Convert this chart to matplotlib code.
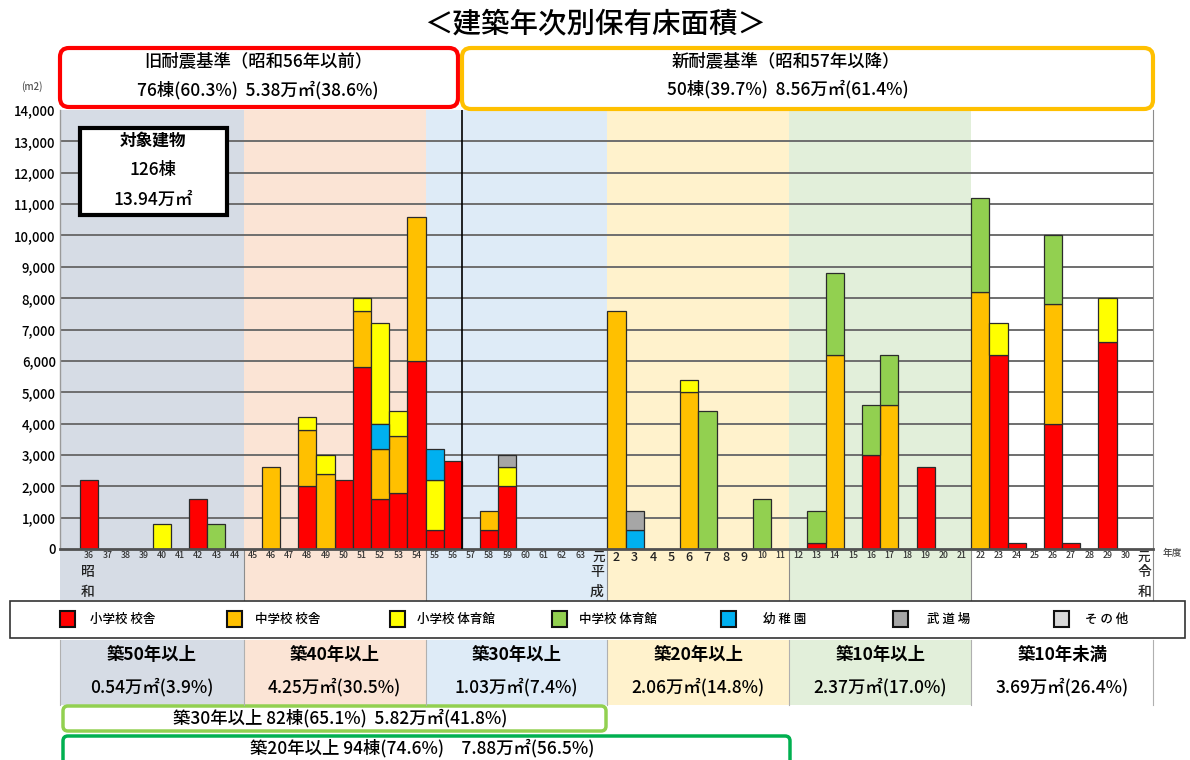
import matplotlib
matplotlib.use("Agg")
import matplotlib.pyplot as plt
import numpy as np
from matplotlib.patches import Rectangle, FancyBboxPatch
from matplotlib.transforms import Affine2D

plt.rcParams['font.family'] = ['Noto Sans CJK JP', 'DejaVu Sans']
plt.rcParams['font.weight'] = 'medium'

W, H = 1190, 760

# ---- data -------------------------------------------------------------
# fiscal years: 昭和36..63, 平成元..30, 令和元
year_labels = [str(y) for y in range(36, 64)] + ['元'] + [str(y) for y in range(2, 31)] + ['元']

# floor area (m2) per building type and year
elem_bldg = [2200, 0, 0, 0, 0, 0, 1600, 0, 0, 0,
             0, 0, 2000, 0, 2200, 5800, 1600, 1800, 6000, 600,
             2800, 0, 600, 2000, 0, 0, 0, 0, 0, 0,
             0, 0, 0, 0, 0, 0, 0, 0, 0, 0,
             200, 0, 0, 3000, 0, 0, 2600, 0, 0, 0,
             6200, 200, 0, 4000, 200, 0, 6600, 0, 0]
junior_bldg = [0, 0, 0, 0, 0, 0, 0, 0, 0, 0,
               2600, 0, 1800, 2400, 0, 1800, 1600, 1800, 4600, 0,
               0, 0, 600, 0, 0, 0, 0, 0, 0, 7600,
               0, 0, 0, 5000, 0, 0, 0, 0, 0, 0,
               0, 6200, 0, 0, 4600, 0, 0, 0, 0, 8200,
               0, 0, 0, 3800, 0, 0, 0, 0, 0]
elem_gym = [0, 0, 0, 0, 800, 0, 0, 0, 0, 0,
            0, 0, 400, 600, 0, 400, 3200, 800, 0, 1600,
            0, 0, 0, 600, 0, 0, 0, 0, 0, 0,
            0, 0, 0, 400, 0, 0, 0, 0, 0, 0,
            0, 0, 0, 0, 0, 0, 0, 0, 0, 0,
            1000, 0, 0, 0, 0, 0, 1400, 0, 0]
junior_gym = [0, 0, 0, 0, 0, 0, 0, 800, 0, 0,
              0, 0, 0, 0, 0, 0, 0, 0, 0, 0,
              0, 0, 0, 0, 0, 0, 0, 0, 0, 0,
              0, 0, 0, 0, 4400, 0, 0, 1600, 0, 0,
              1000, 2600, 0, 1600, 1600, 0, 0, 0, 0, 3000,
              0, 0, 0, 2200, 0, 0, 0, 0, 0]
kindergarten = [0, 0, 0, 0, 0, 0, 0, 0, 0, 0,
                0, 0, 0, 0, 0, 0, 800, 0, 0, 1000,
                0, 0, 0, 0, 0, 0, 0, 0, 0, 0,
                600, 0, 0, 0, 0, 0, 0, 0, 0, 0,
                0, 0, 0, 0, 0, 0, 0, 0, 0, 0,
                0, 0, 0, 0, 0, 0, 0, 0, 0]
budojo = [0, 0, 0, 0, 0, 0, 0, 0, 0, 0,
          0, 0, 0, 0, 0, 0, 0, 0, 0, 0,
          0, 0, 0, 400, 0, 0, 0, 0, 0, 0,
          600, 0, 0, 0, 0, 0, 0, 0, 0, 0,
          0, 0, 0, 0, 0, 0, 0, 0, 0, 0,
          0, 0, 0, 0, 0, 0, 0, 0, 0]
others = [0] * 59

series_names = ['小学校 校舎', '中学校 校舎', '小学校 体育館', '中学校 体育館', '幼 稚 園', '武 道 場', 'そ の 他']
series_values = [elem_bldg, junior_bldg, elem_gym, junior_gym, kindergarten, budojo, others]
series_colors = ['#ff0000', '#ffc000', '#ffff00', '#92d050', '#00b0f0', '#a6a6a6', '#d9d9d9']

# age bands
band_names = ['築50年以上', '築40年以上', '築30年以上', '築20年以上', '築10年以上', '築10年未満']
band_values = ['0.54万㎡(3.9%)', '4.25万㎡(30.5%)', '1.03万㎡(7.4%)',
               '2.06万㎡(14.8%)', '2.37万㎡(17.0%)', '3.69万㎡(26.4%)']
band_colors = ['#d6dce5', '#fbe4d5', '#deebf7', '#fff2cc', '#e2efda', '#ffffff']
band_edges = [-1.6, 8.5, 18.5, 28.5, 38.5, 48.5, 58.5]

y_ticks = list(range(0, 14001, 1000))

# ---- figure -----------------------------------------------------------
fig = plt.figure(figsize=(W / 100, H / 100), dpi=100)
px = Affine2D().scale(1 / W, -1 / H).translate(0, 1) + fig.transFigure

ax_l, ax_r, ax_t, ax_b = 60, 1153, 110, 549
ax = fig.add_axes([ax_l / W, 1 - ax_b / H, (ax_r - ax_l) / W, (ax_b - ax_t) / H])
ax.patch.set_alpha(0)
ax.set_xlim(band_edges[0], band_edges[-1])
ax.set_ylim(0, 14000)

n = len(year_labels)
x = np.arange(n)

# background bands, extended below the axis down to the legend
below = -(600 - ax_b) / (ax_b - ax_t)
xt = ax.get_xaxis_transform()
for i, c in enumerate(band_colors):
    ax.add_patch(Rectangle((band_edges[i], below), band_edges[i + 1] - band_edges[i], 1 - below,
                           transform=xt, facecolor=c, edgecolor='none', zorder=0, clip_on=False))
    if i > 0:
        ax.plot([band_edges[i]] * 2, [below, 0], transform=xt, color='#8c8c8c', lw=0.8,
                clip_on=False, zorder=0.2)
ax.plot([band_edges[-1]] * 2, [below, 1], transform=xt, color='#8c8c8c', lw=0.8,
        clip_on=False, zorder=0.2)

# horizontal grid
for yv in y_ticks[1:-1]:
    ax.axhline(yv, color='#6e6e6e', lw=1.4, zorder=0.5)

# stacked bars: default stacking order, with one column stacked differently
stack_override = {year_labels.index('52'): ['小学校 校舎', '中学校 校舎', '幼 稚 園', '小学校 体育館']}
bottoms = {k: np.zeros(n) for k in series_names}
for i in range(n):
    order = stack_override.get(i, series_names)
    order = order + [k for k in series_names if k not in order]
    acc = 0
    for k in order:
        bottoms[k][i] = acc
        acc += series_values[series_names.index(k)][i]

for name, vals, col in zip(series_names, series_values, series_colors):
    v = np.array(vals, dtype=float)
    m = v > 0
    if m.any():
        ax.bar(x[m], v[m], bottom=bottoms[name][m], width=1.0, color=col,
               edgecolor='#2b2b2b', linewidth=0.9, zorder=2)

# divider between old / new seismic standard
ax.axvline(20.5, color='black', lw=1.2, zorder=3)

# axes cosmetics
for s in ['top', 'right']:
    ax.spines[s].set_visible(False)
ax.spines['left'].set_color('#9a9a9a')
ax.spines['left'].set_linewidth(1.0)
ax.spines['bottom'].set_color('#505050')
ax.spines['bottom'].set_linewidth(2.0)
ax.set_yticks(y_ticks)
ax.set_yticklabels([f'{v:,}' for v in y_ticks], fontsize=9.5)
ax.tick_params(axis='y', length=0, pad=3)
ax.set_xticks(x)
ax.set_xticklabels(year_labels)
ax.tick_params(axis='x', length=0, pad=1.5, colors='#333333')
for lab in ax.get_xticklabels():
    t = lab.get_text()
    lab.set_fontsize(9 if len(t) == 1 else 6.3)
    if len(t) == 1:
        lab.set_color('#222222')

# era characters under the tick labels
for xx, chars in [(88, '昭和'), (597, '平成'), (1145, '令和')]:
    for j, ch in enumerate(chars):
        fig.text(xx, 572 + 20 * j, ch, transform=px, ha='center', va='center',
                 fontsize=10, color='#222222')
fig.text(1172, 553, '年度', transform=px, ha='center', va='center', fontsize=7, color='#444444')
fig.text(32, 87, '(m2)', transform=px, ha='center', va='center', fontsize=7, color='#555555')

# title
fig.text(595, 24, '＜建築年次別保有床面積＞', transform=px, ha='center', va='center', fontsize=20.5)

# seismic standard header boxes
fig.add_artist(FancyBboxPatch((60, 48), 398, 59, boxstyle='round,pad=0,rounding_size=9',
                              transform=px, facecolor='white', edgecolor='#ff0000', lw=3))
fig.add_artist(FancyBboxPatch((462, 48), 691, 61, boxstyle='round,pad=0,rounding_size=9',
                              transform=px, facecolor='white', edgecolor='#ffc000', lw=3))
fig.text(258, 61, '旧耐震基準（昭和56年以前）', transform=px, ha='center', va='center', fontsize=12.5)
fig.text(258, 90, '76棟(60.3%)  5.38万㎡(38.6%)', transform=px, ha='center', va='center', fontsize=12.5)
fig.text(786, 61, '新耐震基準（昭和57年以降）', transform=px, ha='center', va='center', fontsize=12.5)
fig.text(788, 89, '50棟(39.7%)  8.56万㎡(61.4%)', transform=px, ha='center', va='center', fontsize=12.5)

# total buildings box
fig.add_artist(Rectangle((80, 128), 147, 87, transform=px, facecolor='white',
                         edgecolor='black', lw=3, zorder=5))
fig.text(153, 141, '対象建物', transform=px, ha='center', va='center', fontsize=12,
         fontweight='bold', zorder=6)
fig.text(153, 170, '126棟', transform=px, ha='center', va='center', fontsize=12.5, zorder=6)
fig.text(153, 200, '13.94万㎡', transform=px, ha='center', va='center', fontsize=12.5, zorder=6)

# legend row
fig.add_artist(Rectangle((10, 601), 1175, 37, transform=px, facecolor='white',
                         edgecolor='#333333', lw=1.2))
leg_x = [60, 227, 390, 552, 721, 893, 1054]
leg_tx = [90, 255, 417, 579, 763, 927, 1085]
for sx, tx, name, col in zip(leg_x, leg_tx, series_names, series_colors):
    fig.add_artist(Rectangle((sx, 611), 15, 16, transform=px, facecolor=col,
                             edgecolor='#111111', lw=1.5))
    fig.text(tx, 619, name, transform=px, ha='left', va='center', fontsize=9)

# age band summary cells
cell_px = [ax_l + (e - band_edges[0]) / (band_edges[-1] - band_edges[0]) * (ax_r - ax_l)
           for e in band_edges]
for i in range(len(band_names)):
    x0, x1 = cell_px[i], cell_px[i + 1]
    fig.add_artist(Rectangle((x0, 640), x1 - x0, 65, transform=px, facecolor=band_colors[i],
                             edgecolor='none'))
    fig.text((x0 + x1) / 2, 655, band_names[i], transform=px, ha='center', va='center',
             fontsize=12.5, fontweight='bold')
    fig.text((x0 + x1) / 2, 687, band_values[i], transform=px, ha='center', va='center',
             fontsize=12.5)
for e in cell_px:
    fig.add_artist(plt.Line2D([e, e], [640, 705], transform=px, color='#b0b0b0', lw=0.8))

# cumulative summary boxes
fig.add_artist(FancyBboxPatch((63, 706), 543, 25, boxstyle='round,pad=0,rounding_size=5',
                              transform=px, facecolor='white', edgecolor='#92d050', lw=2.5))
fig.text(340, 718, '築30年以上 82棟(65.1%)  5.82万㎡(41.8%)', transform=px, ha='center',
         va='center', fontsize=12.5)
fig.add_artist(FancyBboxPatch((63, 736), 727, 40, boxstyle='round,pad=0,rounding_size=5',
                              transform=px, facecolor='white', edgecolor='#00b050', lw=2.5))
fig.text(422, 748, '築20年以上 94棟(74.6%)　7.88万㎡(56.5%)', transform=px, ha='center',
         va='center', fontsize=12.5)

fig.savefig('out.png', dpi=100)
